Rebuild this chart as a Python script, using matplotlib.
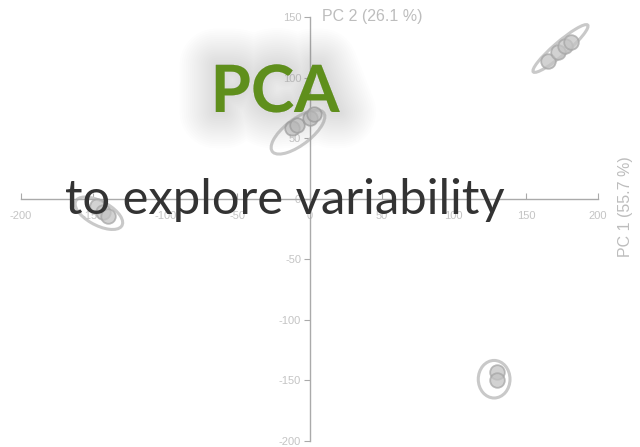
import matplotlib

matplotlib.use("Agg")

import matplotlib.pyplot as plt
import matplotlib.patheffects as pe
from matplotlib.patches import Ellipse

plt.rcParams["axes.unicode_minus"] = False

# sample scores (PC1, PC2), four groups
grp_a_x = [165, 172, 177, 181]
grp_a_y = [114, 121, 126, 129]
grp_b_x = [-12, -9, 0, 3]
grp_b_y = [58, 61, 67, 70]
grp_c_x = [-147, -143, -140]
grp_c_y = [-6, -11, -14]
grp_d_x = [130, 130]
grp_d_y = [-143, -150]

# confidence ellipses: centre, width, height, angle (data units)
ell_cx = [174, -8, -146, 128]
ell_cy = [124, 55, -12, -149]
ell_w = [54, 48, 38, 22]
ell_h = [10, 20, 19, 31]
ell_ang = [46, 44, -35, 0]

x_ticks = [-200, -150, -100, -50, 0, 50, 100, 150, 200]
y_ticks = [-200, -150, -100, -50, 0, 50, 100, 150]

AXIS = "#aaaaaa"
TICK = "#c4c4c4"
DPI = 100.0

fig = plt.figure(figsize=(640 / DPI, 447 / DPI), dpi=DPI, facecolor="white")
ax = fig.add_axes([21 / 640, 6 / 447, 577 / 640, 424 / 447])
ax.set_xlim(-200, 200)
ax.set_ylim(-200, 150)
ax.patch.set_alpha(0)

for side in ["top", "right"]:
    ax.spines[side].set_visible(False)
ax.spines["left"].set_position(("data", 0))
ax.spines["bottom"].set_position(("data", 0))
for side in ["left", "bottom"]:
    ax.spines[side].set_color(AXIS)
    ax.spines[side].set_linewidth(1.0)

ax.set_xticks(x_ticks)
ax.set_yticks(y_ticks)
ax.tick_params(axis="x", direction="in", length=4, color=AXIS, pad=9,
               labelsize=8, labelcolor=TICK)
ax.tick_params(axis="y", direction="out", length=4, color=AXIS, pad=2,
               labelsize=8, labelcolor=TICK)
for label in ax.get_xticklabels() + ax.get_yticklabels():
    label.set_family("Liberation Sans")

for cx, cy, w, h, a in zip(ell_cx, ell_cy, ell_w, ell_h, ell_ang):
    ax.add_patch(Ellipse((cx, cy), w, h, angle=a, fill=False,
                         edgecolor="#c9c9c9", linewidth=2.2, zorder=2))

for xs, ys in [(grp_a_x, grp_a_y), (grp_b_x, grp_b_y),
               (grp_c_x, grp_c_y), (grp_d_x, grp_d_y)]:
    ax.plot(xs, ys, linestyle="none", marker="o", markersize=10.5,
            markerfacecolor="#c4c4c4", markeredgecolor="#a6a6a6",
            markeredgewidth=1.3, alpha=0.75, zorder=3)

ax.annotate("PC 2 (26.1 %)", xy=(0, 150), xytext=(9, 0),
            textcoords="offset points", ha="left", va="center",
            fontsize=11.5, color="#bdbdbd", family="Liberation Sans",
            annotation_clip=False)
ax.annotate("PC 1 (55.7 %)", xy=(200, 0), xytext=(20, -6),
            textcoords="offset points", ha="center", va="center",
            rotation=90, fontsize=11.5, color="#bdbdbd",
            family="Liberation Sans", annotation_clip=False)

# title overlay with soft glow
glow = [pe.Stroke(linewidth=lw, foreground="#a0a0a0", alpha=0.018,
                  joinstyle="round", capstyle="round")
        for lw in range(52, 2, -3)]
fig.text(275 / 640, 1 - 112 / 447, "PCA", ha="center", va="baseline",
         fontsize=47, fontweight="bold", family="Lato", color="#5f8f1c",
         path_effects=glow + [pe.Normal()], zorder=10)
fig.text(65 / 640, 1 - 214 / 447, "to explore variability", ha="left",
         va="baseline", fontsize=35.3, family="Lato", color="#333333",
         zorder=10)

fig.savefig("out.png", dpi=DPI, facecolor="white")
